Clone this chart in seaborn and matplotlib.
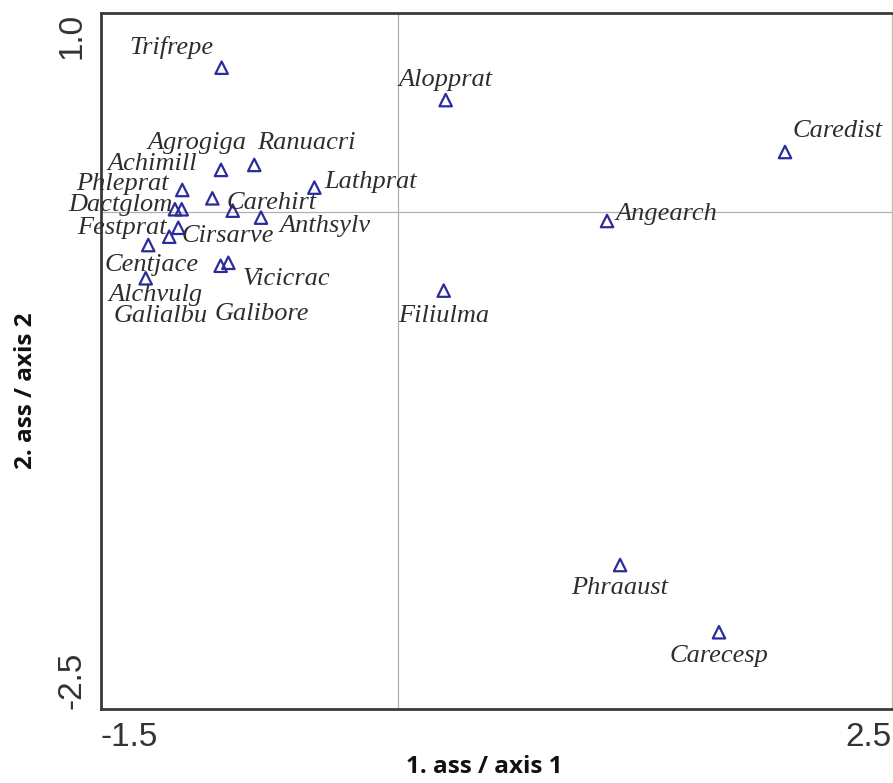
import numpy as np
import pandas as pd
import matplotlib
matplotlib.use("Agg")
import matplotlib.pyplot as plt
import seaborn as sns

# ---- data ----
species = ["Trifrepe", "Alopprat", "Caredist", "Angearch", "Filiulma", "Phraaust",
           "Carecesp", "Agrogiga", "Ranuacri", "Lathprat", "Achimill", "Phleprat",
           "Dactglom", "Carehirt", "Anthsylv", "Festprat", "Cirsarve", "Centjace",
           "Vicicrac", "Galibore", "Alchvulg", "Galialbu"]
axis1 = [-0.890, 0.243, 1.959, 1.059, 0.233, 1.125,
         1.625, -0.893, -0.725, -0.421, -0.937, -1.089,
         -1.126, -0.834, -0.691, -1.109, -1.155, -1.261,
         -0.856, -0.895, -1.274, -1.092]
axis2 = [0.725, 0.562, 0.301, -0.046, -0.396, -1.776,
         -2.114, 0.211, 0.236, 0.122, 0.068, 0.110,
         0.013, 0.006, -0.029, -0.080, -0.125, -0.167,
         -0.256, -0.271, -0.334, 0.013]
xticks = [-1.5, -1.0, -0.5, 0.0, 0.5, 1.0, 1.5, 2.0, 2.5]
xticklabels = ["-1.5", "", "", "", "", "", "", "", "2.5"]
yticks = [-2.5, -2.0, -1.5, -1.0, -0.5, 0.0, 0.5, 1.0]
yticklabels = ["-2.5", "", "", "", "", "", "", "1.0"]
xlabel = "1. ass / axis 1"
ylabel = "2. ass / axis 2"

# ---- label offsets (pixels, style only) ----
offsets = {
    "Trifrepe": (-50, 20), "Alopprat": (0, 20), "Caredist": (53, 21),
    "Angearch": (59, 7), "Filiulma": (0, -25), "Phraaust": (0, -23),
    "Carecesp": (0, -24), "Agrogiga": (-24, 27), "Ranuacri": (52, 22),
    "Lathprat": (56, 6), "Achimill": (-60, 34), "Phleprat": (-60, 6),
    "Dactglom": (-55, 4), "Carehirt": (39, 8), "Anthsylv": (64, -8),
    "Festprat": (-56, 0), "Cirsarve": (59, 1), "Centjace": (3, -20),
    "Vicicrac": (58, -16), "Galibore": (41, -48), "Alchvulg": (10, -17),
    "Galialbu": (-21, -107),
}

df = pd.DataFrame({"species": species, "axis1": axis1, "axis2": axis2})

sns.set_style("white")
plt.rcParams["font.family"] = ["Liberation Sans", "DejaVu Sans"]

fig = plt.figure(figsize=(8.93, 7.83), dpi=100)
ax = fig.add_axes([101 / 893, 1 - 709 / 783, (892 - 101) / 893, (709 - 13) / 783])

ax.axhline(0, color="#b0b0b0", lw=0.9, zorder=1)
ax.axvline(0, color="#b0b0b0", lw=0.9, zorder=1)

sns.scatterplot(data=df, x="axis1", y="axis2", marker="^", s=80,
                facecolor="none", edgecolor="#2b2b9c", linewidth=1.6,
                ax=ax, zorder=3, legend=False)

for name, xv, yv in zip(df["species"], df["axis1"], df["axis2"]):
    dx, dy = offsets[name]
    ax.annotate(name, (xv, yv), xytext=(dx, dy), textcoords="offset pixels",
                ha="center", va="center", fontsize=19, style="italic",
                family="Liberation Serif", color="#2e2e2e", zorder=4)

ax.set_xlim(-1.5, 2.5)
ax.set_ylim(-2.5, 1.0)
ax.set_xticks(xticks)
ax.set_xticklabels(xticklabels)
ax.set_yticks(yticks)
ax.set_yticklabels(yticklabels, rotation=90)

ax.tick_params(axis="both", direction="inout", length=7, width=1.4,
               color="#333333", labelsize=24, labelcolor="#333333", pad=6)
xl = ax.get_xticklabels()
xl[0].set_ha("left")
xl[-1].set_ha("right")
yl = ax.get_yticklabels()
yl[0].set_va("bottom")
yl[-1].set_va("top")

for side in ["left", "bottom", "top"]:
    ax.spines[side].set_color("#3a3a3a")
    ax.spines[side].set_linewidth(2.0)
ax.spines["right"].set_color("#bdbdbd")
ax.spines["right"].set_linewidth(1.0)

ax.set_xlabel(xlabel, fontsize=17.5, fontweight="bold", family="Open Sans", color="#111111")
ax.set_ylabel(ylabel, fontsize=17.5, fontweight="bold", family="Open Sans", color="#111111")
ax.xaxis.set_label_coords((484 - 101) / 791, -(755 - 709) / 696)
ax.yaxis.set_label_coords(-(101 - 38) / 791, (709 - 391) / 696)

fig.savefig("out.png", dpi=100)
